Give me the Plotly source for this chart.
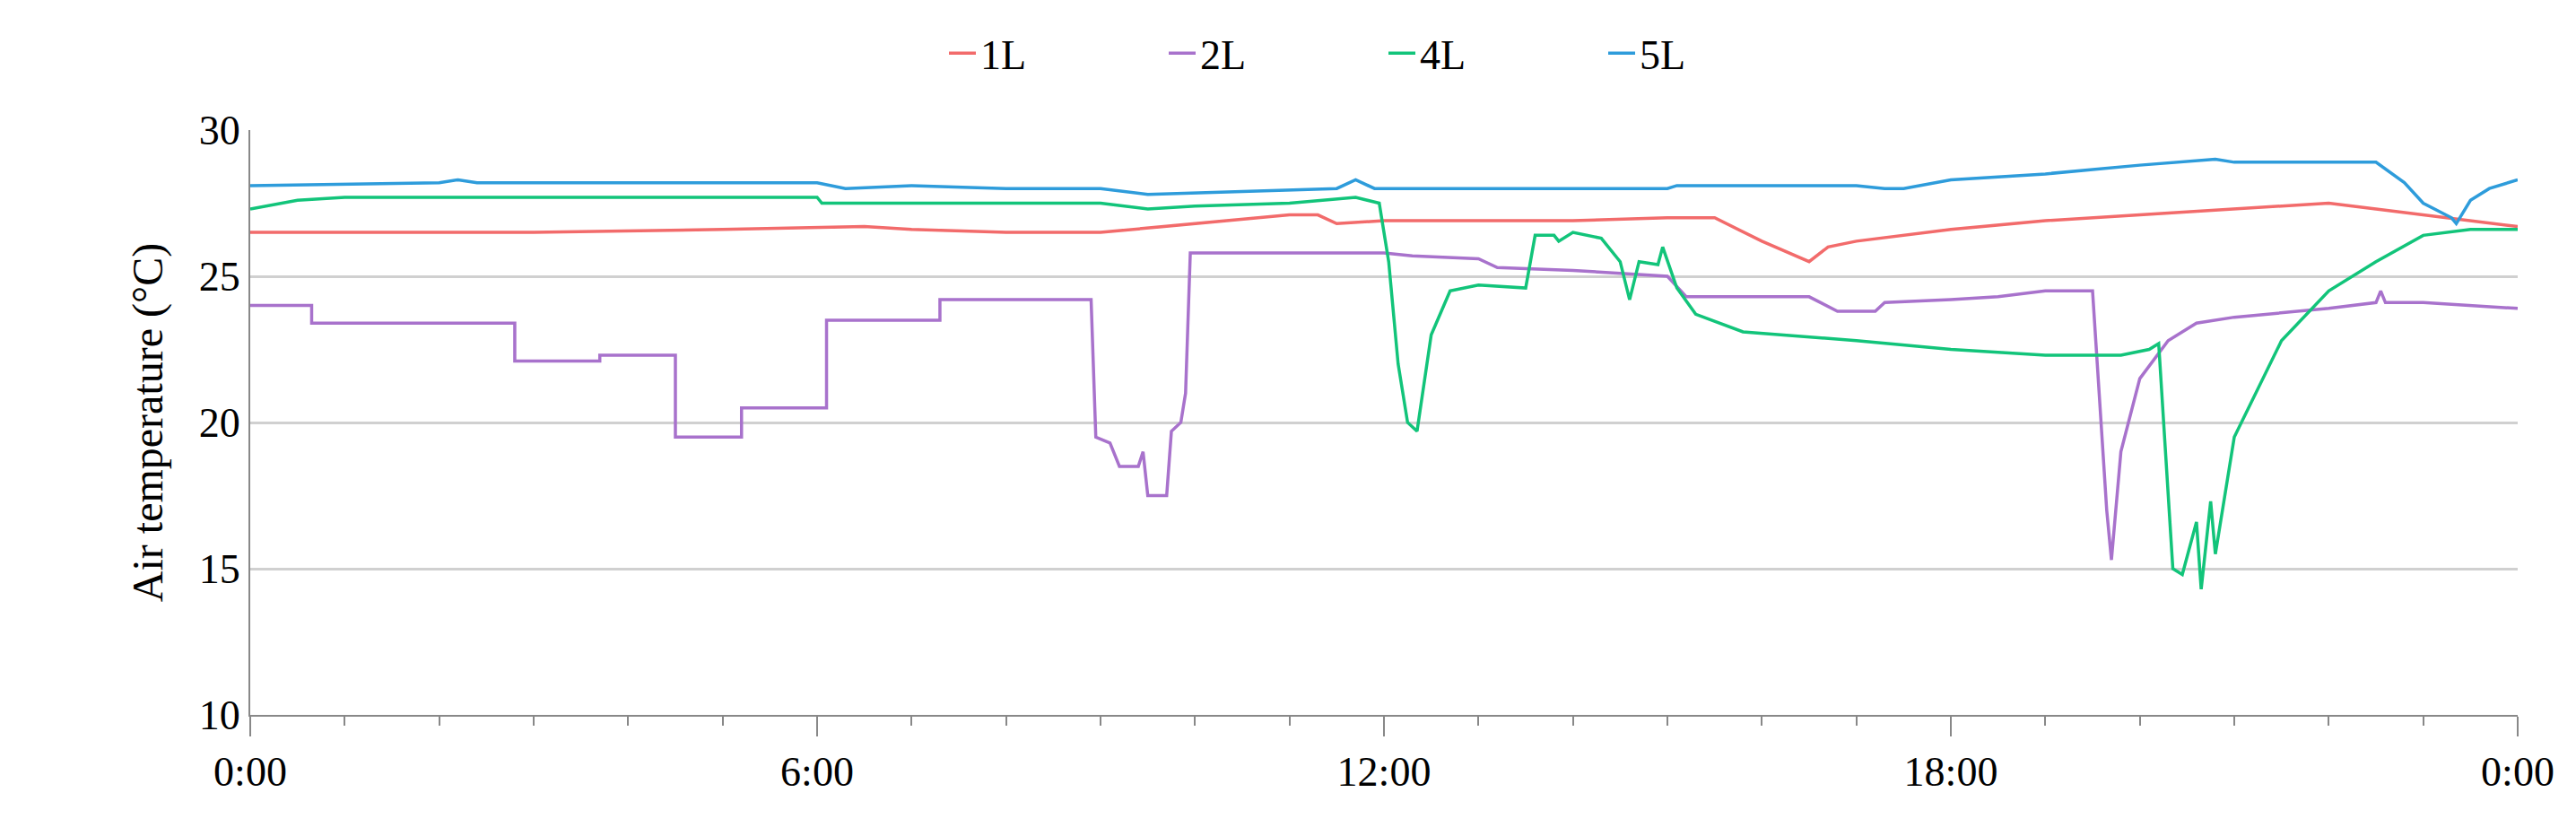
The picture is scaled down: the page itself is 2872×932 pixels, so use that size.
import plotly.graph_objects as go

x1 = [0, 3, 5, 6.5, 7, 8, 9, 10, 11, 11.3, 11.5, 12, 14, 15, 15.5, 16, 16.5, 16.7, 17, 18, 19, 20, 21, 22, 22.5, 23, 24]
y1 = [26.5, 26.5, 26.6, 26.7, 26.6, 26.5, 26.5, 26.8, 27.1, 27.1, 26.8, 26.9, 26.9, 27.0, 27.0, 26.2, 25.5, 26.0, 26.2, 26.6, 26.9, 27.1, 27.3, 27.5, 27.3, 27.1, 26.7]

x2 = [0, 0.65, 0.65, 2.8, 2.8, 3.7, 3.7, 4.5, 4.5, 5.2, 5.2, 6.1, 6.1, 7.3, 7.3, 8.9, 8.95, 9.1, 9.2, 9.4, 9.45, 9.5, 9.7, 9.75, 9.85, 9.9, 9.95, 12, 12.3, 13, 13.2, 14, 15, 15.2, 16.5, 16.8, 17.2, 17.3, 18, 18.5, 19, 19.5, 19.55, 19.65, 19.7, 19.8, 20, 20.3, 20.6, 21, 22, 22.5, 22.55, 22.6, 23, 24]
y2 = [24.0, 24.0, 23.4, 23.4, 22.1, 22.1, 22.3, 22.3, 19.5, 19.5, 20.5, 20.5, 23.5, 23.5, 24.2, 24.2, 19.5, 19.3, 18.5, 18.5, 19.0, 17.5, 17.5, 19.7, 20.0, 21.0, 25.8, 25.8, 25.7, 25.6, 25.3, 25.2, 25.0, 24.3, 24.3, 23.8, 23.8, 24.1, 24.2, 24.3, 24.5, 24.5, 22.0, 17.0, 15.3, 19.0, 21.5, 22.8, 23.4, 23.6, 23.9, 24.1, 24.5, 24.1, 24.1, 23.9]

x4 = [0, 0.5, 1, 6, 6.05, 8, 9, 9.5, 10, 11, 11.7, 11.95, 12.05, 12.15, 12.25, 12.35, 12.5, 12.7, 13, 13.5, 13.6, 13.8, 13.85, 14.0, 14.3, 14.5, 14.6, 14.7, 14.9, 14.95, 15.1, 15.3, 15.8, 17, 18, 19, 19.8, 20.1, 20.2, 20.35, 20.45, 20.6, 20.65, 20.75, 20.8, 21, 21.5, 22, 22.5, 23, 23.5, 24]
y4 = [27.3, 27.6, 27.7, 27.7, 27.5, 27.5, 27.5, 27.3, 27.4, 27.5, 27.7, 27.5, 25.5, 22.0, 20.0, 19.7, 23.0, 24.5, 24.7, 24.6, 26.4, 26.4, 26.2, 26.5, 26.3, 25.5, 24.2, 25.5, 25.4, 26.0, 24.6, 23.7, 23.1, 22.8, 22.5, 22.3, 22.3, 22.5, 22.7, 15.0, 14.8, 16.6, 14.3, 17.3, 15.5, 19.5, 22.8, 24.5, 25.5, 26.4, 26.6, 26.6]

x5 = [0, 2, 2.2, 2.4, 6, 6.3, 7, 8, 9, 9.5, 10.5, 11.5, 11.7, 11.9, 15, 15.1, 17, 17.3, 17.5, 18, 19, 20, 20.8, 21, 22.5, 22.8, 23, 23.3, 23.35, 23.5, 23.7, 24]
y5 = [28.1, 28.2, 28.3, 28.2, 28.2, 28.0, 28.1, 28.0, 28.0, 27.8, 27.9, 28.0, 28.3, 28.0, 28.0, 28.1, 28.1, 28.0, 28.0, 28.3, 28.5, 28.8, 29.0, 28.9, 28.9, 28.2, 27.5, 27.0, 26.8, 27.6, 28.0, 28.3]

tick_vals = [0, 6, 12, 18, 24]
tick_text = ["0:00", "6:00", "12:00", "18:00", "0:00"]

fig = go.Figure()
for name, xs, ys, c in [("1L", x1, y1, "#F26B6B"), ("2L", x2, y2, "#A872CC"),
                         ("4L", x4, y4, "#12C47A"), ("5L", x5, y5, "#2E9CDB")]:
    fig.add_trace(go.Scatter(x=xs, y=ys, name=name, mode="lines",
                             line=dict(color=c, width=3.5)))

fig.update_layout(
    width=2872, height=932, plot_bgcolor="white", paper_bgcolor="white",
    margin=dict(l=271, r=73, t=137, b=143, autoexpand=False),
    font=dict(family="Liberation Serif", size=46, color="black"),
    legend=dict(orientation="h", x=0.5, xanchor="center", y=0.945, yanchor="middle",
                yref="container", font=dict(size=46), entrywidth=200),
    xaxis=dict(range=[0, 24], tickvals=tick_vals, ticktext=tick_text,
               showgrid=False, showline=True, linecolor="#888", linewidth=2,
               ticks="outside", ticklen=22, tickcolor="#888", tickwidth=2,
               minor=dict(dtick=1, ticks="outside", ticklen=10, tickcolor="#888", showgrid=False),
               tickfont=dict(size=46), zeroline=False),
    yaxis=dict(range=[10, 30], tickvals=[10, 15, 20, 25, 30], showgrid=True,
               gridcolor="#D0D0D0", gridwidth=3, showline=True, linecolor="#888",
               linewidth=2, ticks="", zeroline=False,
               title=dict(text="Air temperature (°C)", font=dict(size=48), standoff=25),
               tickfont=dict(size=46)),
)
fig.write_html("out.html")
